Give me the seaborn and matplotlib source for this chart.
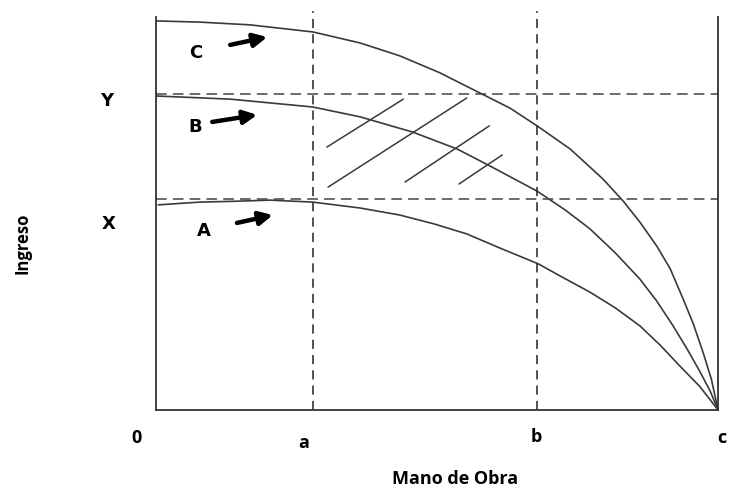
import pandas as pd
import matplotlib.pyplot as plt
import seaborn as sns

# Curves (x = labour, y = income)
curve_c_x = [0, 0.78, 1.67, 2.79, 3.63, 4.34, 5.05, 5.80, 6.30, 6.78, 7.37, 7.95,
             8.31, 8.61, 8.91, 9.15, 9.38, 9.56, 9.73, 9.88, 10]
curve_c_y = [9.90, 9.87, 9.80, 9.62, 9.34, 9.01, 8.58, 8.04, 7.68, 7.23, 6.64, 5.88,
             5.32, 4.78, 4.17, 3.59, 2.82, 2.19, 1.48, 0.79, 0]

curve_b_x = [0, 1.32, 2.79, 3.63, 4.57, 5.36, 5.94, 6.78, 7.28, 7.72, 8.17, 8.61,
             8.91, 9.20, 9.45, 9.68, 9.86, 10]
curve_b_y = [7.99, 7.91, 7.71, 7.46, 7.07, 6.64, 6.21, 5.57, 5.09, 4.61, 4.00, 3.33,
             2.77, 2.14, 1.55, 0.97, 0.48, 0]

curve_a_x = [0.04, 0.78, 1.37, 2.03, 2.79, 3.63, 4.34, 4.96, 5.53, 6.12, 6.80, 7.19,
             7.72, 8.17, 8.61, 8.97, 9.32, 9.68, 10]
curve_a_y = [5.22, 5.29, 5.31, 5.34, 5.29, 5.14, 4.96, 4.73, 4.48, 4.12, 3.72, 3.41,
             3.00, 2.60, 2.14, 1.65, 1.12, 0.59, 0]

# reference levels
x_levels = {"a": 2.79, "b": 6.78}
y_levels = {"X": 5.37, "Y": 8.04}
x_max = 10

# hatch segments (x0, x1, y0, y1)
hatch_x0 = [3.04, 3.06, 4.43, 5.39]
hatch_x1 = [4.40, 5.53, 5.93, 6.16]
hatch_y0 = [6.69, 5.67, 5.80, 5.75]
hatch_y1 = [7.91, 7.94, 7.23, 6.49]

# arrows next to each curve label
arrow_names = ["C", "B", "A"]
arrow_x0 = [1.32, 1.00, 1.44]
arrow_x1 = [1.98, 1.80, 2.08]
arrow_y0 = [9.29, 7.33, 4.76]
arrow_y1 = [9.49, 7.51, 4.96]

sns.set_style("white")

fig = plt.figure(figsize=(7.29, 4.89), dpi=100)
ax = fig.add_axes([0.214, 0.1595, 0.771, 0.8037])

line_col = "#3a3a3a"
for cx, cy in [(curve_a_x, curve_a_y), (curve_b_x, curve_b_y), (curve_c_x, curve_c_y)]:
    df = pd.DataFrame({"x": cx, "y": cy})
    sns.lineplot(data=df, x="x", y="y", sort=False, estimator=None,
                 color=line_col, lw=1.2, ax=ax)

# dashed guides
for name, v in x_levels.items():
    ax.plot([v, v], [0, 10.15], color="#222222", lw=1.1,
            dashes=(6, 4), clip_on=False)
for name, v in y_levels.items():
    ax.plot([0, x_max], [v, v], color="#444444", lw=1.1, dashes=(7, 4))

# hatching
for x0, x1, y0, y1 in zip(hatch_x0, hatch_x1, hatch_y0, hatch_y1):
    ax.plot([x0, x1], [y0, y1], color=line_col, lw=1.1)

# arrows
for x0, x1, y0, y1 in zip(arrow_x0, arrow_x1, arrow_y0, arrow_y1):
    ax.annotate("", xy=(x1, y1), xytext=(x0, y0),
                arrowprops=dict(arrowstyle="-|>,head_length=0.8,head_width=0.4",
                                lw=3.2, color="black", shrinkA=0, shrinkB=0))

ax.set_xlim(0, x_max)
ax.set_ylim(0, 10)
ax.set_xticks([])
ax.set_yticks([])
ax.set_xlabel("")
ax.set_ylabel("")
ax.spines["top"].set_visible(False)
for s in ["left", "bottom", "right"]:
    ax.spines[s].set_color("#333333")
    ax.spines[s].set_linewidth(1.3)

lab = dict(fontsize=13, fontweight="bold", family="DejaVu Sans",
           ha="center", va="center", color="black")
ax.text(0.71, 9.11, "C", **lab)
ax.text(0.69, 7.23, "B", **lab)
ax.text(0.85, 4.58, "A", **lab)
ax.text(-0.87, 7.89, "Y", clip_on=False, **lab)
ax.text(-0.84, 4.76, "X", clip_on=False, **lab)

tick = dict(fontsize=13, fontweight="bold", family="Open Sans",
            ha="center", va="center", color="black")
ax.text(-0.34, -0.69, "0", **tick)
ax.text(2.62, -0.81, "a", **tick)
ax.text(6.76, -0.66, "b", **tick)
ax.text(10.07, -0.69, "c", **tick)
ax.text(5.32, -1.73, "Mano de Obra", **tick)
ax.text(-2.37, 4.27, "Ingreso", rotation=90, **dict(tick, fontsize=12))

fig.savefig("out.png", dpi=100)
